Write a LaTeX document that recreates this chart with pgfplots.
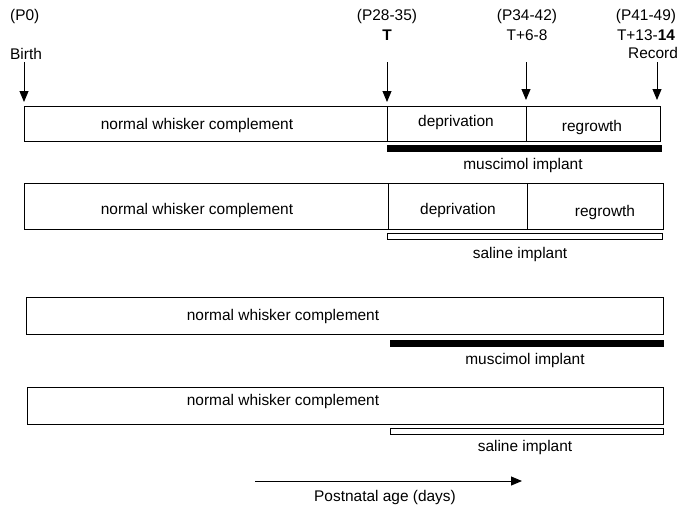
\documentclass[border=0pt]{standalone}
\usepackage{pgfplots}
\pgfplotsset{compat=1.18}
\usetikzlibrary{arrows.meta}
\usepackage{fontspec}
\setmainfont{Liberation Sans}
\begin{document}
\fontsize{15.5}{18}\selectfont
\begin{tikzpicture}[font=\fontsize{15.5}{18}\selectfont]
\begin{axis}[width=684bp,height=508bp,scale only axis,
  xmin=0,xmax=684,ymin=0,ymax=508,y dir=reverse,hide axis,clip=false]
\addplot[draw=none] coordinates {(0,0) (684,508)};
% ---- row 1
\addplot[black, line width=0.9bp] coordinates {(24,106)(660,106)(660,141)(24,141)} -- cycle;
\addplot[black, line width=0.9bp] coordinates {(387,106)(387,141)};
\addplot[black, line width=0.9bp] coordinates {(526,106)(526,141)};
\addplot[black, fill=black] coordinates {(387,145)(661,145)(661,151)(387,151)} -- cycle;
% ---- row 2
\addplot[black, line width=0.9bp] coordinates {(24,183)(663,183)(663,229)(24,229)} -- cycle;
\addplot[black, line width=0.9bp] coordinates {(388,183)(388,229)};
\addplot[black, line width=0.9bp] coordinates {(527,183)(527,229)};
\addplot[black, line width=0.9bp, fill=white] coordinates {(387,233)(662,233)(662,239)(387,239)} -- cycle;
% ---- row 3
\addplot[black, line width=0.9bp] coordinates {(26,297)(663,297)(663,334)(26,334)} -- cycle;
\addplot[black, fill=black] coordinates {(390,340)(663,340)(663,346)(390,346)} -- cycle;
% ---- row 4
\addplot[black, line width=0.9bp] coordinates {(27,387)(663,387)(663,424)(27,424)} -- cycle;
\addplot[black, line width=0.9bp, fill=white] coordinates {(390,428)(663,428)(663,434)(390,434)} -- cycle;
% ---- arrows
\addplot[black, line width=0.9bp, -{Triangle[length=11bp,width=9bp]}] coordinates {(24,62)(24,102)};
\addplot[black, line width=0.9bp, -{Triangle[length=11bp,width=9bp]}] coordinates {(387,62)(387,102)};
\addplot[black, line width=0.9bp, -{Triangle[length=11bp,width=9bp]}] coordinates {(526,62)(526,100)};
\addplot[black, line width=0.9bp, -{Triangle[length=11bp,width=9bp]}] coordinates {(657,62)(657,100)};
\addplot[black, line width=0.9bp, -{Triangle[length=11bp,width=9bp]}] coordinates {(255,481)(522,481)};
% ---- texts
\node[font=\fontsize{15.5}{18}\selectfont] at (axis cs:197,126) {normal whisker complement};
\node[font=\fontsize{15.5}{18}\selectfont] at (axis cs:456,123) {deprivation};
\node[font=\fontsize{15.5}{18}\selectfont] at (axis cs:592,128) {regrowth};
\node[font=\fontsize{15.5}{18}\selectfont] at (axis cs:523,166) {muscimol implant};
\node[font=\fontsize{15.5}{18}\selectfont] at (axis cs:197,210) {normal whisker complement};
\node[font=\fontsize{15.5}{18}\selectfont] at (axis cs:458,210) {deprivation};
\node[font=\fontsize{15.5}{18}\selectfont] at (axis cs:605,212) {regrowth};
\node[font=\fontsize{15.5}{18}\selectfont] at (axis cs:520,254) {saline implant};
\node[font=\fontsize{15.5}{18}\selectfont] at (axis cs:283,316) {normal whisker complement};
\node[font=\fontsize{15.5}{18}\selectfont] at (axis cs:525,360) {muscimol implant};
\node[font=\fontsize{15.5}{18}\selectfont] at (axis cs:283,401) {normal whisker complement};
\node[font=\fontsize{15.5}{18}\selectfont] at (axis cs:525,447) {saline implant};
\node[font=\fontsize{15.5}{18}\selectfont] at (axis cs:385,497) {Postnatal age (days)};
\node[font=\fontsize{15.5}{18}\selectfont, anchor=west, inner sep=0pt] at (axis cs:10,16) {(P0)};
\node[font=\fontsize{15.5}{18}\selectfont, anchor=west, inner sep=0pt] at (axis cs:10,54) {Birth};
\node[font=\fontsize{15.5}{18}\selectfont] at (axis cs:387,16) {(P28-35)};
\node[font=\fontsize{15.5}{18}\selectfont] at (axis cs:387,35) {\textbf{T}};
\node[font=\fontsize{15.5}{18}\selectfont] at (axis cs:527,16) {(P34-42)};
\node[font=\fontsize{15.5}{18}\selectfont] at (axis cs:527,35) {T+6-8};
\node[font=\fontsize{15.5}{18}\selectfont] at (axis cs:646,16) {(P41-49)};
\node[font=\fontsize{15.5}{18}\selectfont] at (axis cs:646,35) {T+13-\textbf{14}};
\node[font=\fontsize{15.5}{18}\selectfont] at (axis cs:653,53) {Record};
\end{axis}
\end{tikzpicture}
\end{document}
